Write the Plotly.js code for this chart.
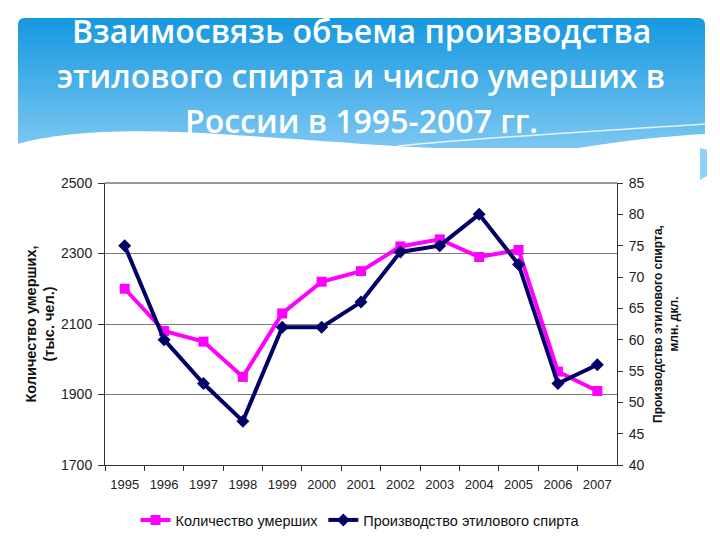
<!DOCTYPE html>
<html>
<head>
<meta charset="utf-8">
<script src="https://cdn.plot.ly/plotly-3.0.1.min.js"></script>
<style>html,body{margin:0;padding:0;background:#fff;}#chart{width:720px;height:540px;}</style>
</head>
<body>
<div id="chart"></div>
<script>
const years = ["1995","1996","1997","1998","1999","2000","2001","2002","2003","2004","2005","2006","2007"];
const deaths = [2200, 2080, 2050, 1950, 2130, 2220, 2250, 2320, 2340, 2290, 2310, 1965, 1910];
const spirit = [75, 60, 53, 47, 62, 62, 66, 74, 75, 80, 72, 53, 56];
const leftTicks = [1700, 1900, 2100, 2300, 2500];
const rightTicks = [40, 45, 50, 55, 60, 65, 70, 75, 80, 85];
const titleLines = ["Взаимосвязь объема производства", "этилового спирта и число умерших в", "России в 1995-2007 гг."];

// page pixel -> paper helpers (margins are zero, paper = whole page)
const W = 720, H = 540;
const L = 105, R = 617, T = 183, B = 465;
const px = v => v / W;
const py = v => (H - v) / H;

const svg = `<svg xmlns="http://www.w3.org/2000/svg" width="687" height="130" viewBox="0 0 687 130" preserveAspectRatio="none">
<defs><linearGradient id="g" x1="0" y1="0" x2="0" y2="1">
<stop offset="0" stop-color="#1698e0"/><stop offset="1" stop-color="#7cc7f1"/></linearGradient></defs>
<rect x="0" y="0" width="687" height="130" rx="6" ry="6" fill="url(#g)"/>
<path d="M0,130 L0,126 C40,114 110,110 200,116 C300,122 360,128 420,130 Z" fill="#ffffff"/>
<path d="M380,128 C480,118 600,112 687,106" stroke="#ffffff" stroke-width="1.5" fill="none" opacity="0.8"/>
<path d="M560,130 C610,122 650,118 687,116 L687,130 Z" fill="#ffffff"/>
</svg>`;
const svgUri = "data:image/svg+xml;charset=utf-8," + encodeURIComponent(svg);

const font = "Liberation Sans, Arial, sans-serif";
const titleFont = {family: "Open Sans, sans-serif", size: 32, color: "#ffffff", weight: 600};
const baselines = [42, 87, 132];

const traces = [
  {
    x: years, y: deaths, name: "Количество умерших", type: "scatter", mode: "lines+markers",
    line: {color: "#ff00ff", width: 4}, marker: {symbol: "square", size: 10, color: "#ff00ff"},
    yaxis: "y"
  },
  {
    x: years, y: spirit, name: "Производство этилового спирта", type: "scatter", mode: "lines+markers",
    line: {color: "#000066", width: 4}, marker: {symbol: "diamond", size: 10, color: "#000066"},
    yaxis: "y2"
  }
];

const layout = {
  width: W, height: H,
  margin: {l: 0, r: 0, t: 0, b: 0, pad: 0},
  paper_bgcolor: "#ffffff", plot_bgcolor: "#ffffff",
  showlegend: true,
  font: {family: font, color: "#222", size: 11},
  xaxis: {
    domain: [L / W, R / W],
    type: "category", range: [-0.5, 12.5], tickson: "boundaries", automargin: false,
    ticks: "outside", ticklen: 5, tickcolor: "#333", ticklabelstandoff: 7,
    showline: true, linecolor: "#333", linewidth: 1, showgrid: false,
    tickfont: {family: font, size: 13, color: "#222"}, fixedrange: true
  },
  yaxis: {
    domain: [(H - B) / H, (H - T) / H], automargin: false,
    range: [1700, 2500], tickvals: leftTicks, ticktext: leftTicks.map(String),
    ticks: "outside", ticklen: 6, tickcolor: "#333", ticklabelstandoff: 3,
    showline: true, linecolor: "#333", linewidth: 1,
    showgrid: true, gridcolor: "#7a7a7a", gridwidth: 1, zeroline: false,
    tickfont: {family: font, size: 14, color: "#222"},
    title: {text: "<b>Количество умерших,</b><br><b>(тыс. чел.)</b>", font: {family: font, size: 14.5, color: "#111"}, standoff: 2}
  },
  yaxis2: {
    range: [40, 85], tickvals: rightTicks, overlaying: "y", side: "right", automargin: false,
    ticks: "outside", ticklen: 5, tickcolor: "#333", ticklabelstandoff: 3,
    showline: true, linecolor: "#333", linewidth: 1, showgrid: false, zeroline: false,
    tickfont: {family: font, size: 14, color: "#222"},
    title: {text: "<b>Производство этилового спирта,</b><br><b>млн. дкл.</b>", font: {family: font, size: 12, color: "#111"}, standoff: 10}
  },
  legend: {
    orientation: "h", x: 0.5, xanchor: "center", y: py(520), yanchor: "middle",
    font: {family: font, size: 14.5, color: "#111"}, itemwidth: 30, tracegroupgap: 0,
    bgcolor: "rgba(0,0,0,0)"
  },
  annotations: titleLines.map((t, i) => ({
    text: t, xref: "paper", yref: "paper", x: px(361), y: py(baselines[i] - 0.35 * titleFont.size),
    xanchor: "center", yanchor: "middle", showarrow: false, font: titleFont
  })),
  shapes: [
    {type: "line", xref: "paper", yref: "paper", x0: px(L), x1: px(R), y0: py(T), y1: py(T), line: {color: "#333", width: 1}},
    {type: "path", xref: "paper", yref: "paper",
     path: `M ${px(700)} ${py(148)} L ${px(707)} ${py(150)} L ${px(707)} ${py(176)} L ${px(700)} ${py(180)} Z`,
     fillcolor: "#8fd0f5", line: {width: 0}}
  ],
  images: [{
    source: svgUri, xref: "paper", yref: "paper",
    x: px(18), y: py(18), sizex: (705 - 18) / W, sizey: 130 / H,
    sizing: "stretch", layer: "below", xanchor: "left", yanchor: "top"
  }]
};

Plotly.newPlot("chart", traces, layout, {displayModeBar: false, staticPlot: true});
</script>
</body>
</html>
